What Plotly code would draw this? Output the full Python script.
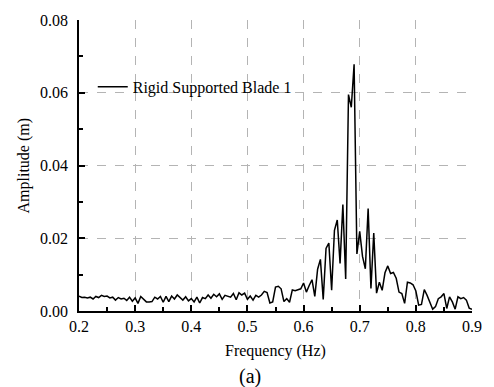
import plotly.graph_objects as go
import numpy as np

# Frequency grid (Hz) and amplitude (m)
f_start, f_stop, f_step = 0.2, 0.9, 0.005
amplitude = [
    0.0041, 0.0037, 0.0038, 0.0036, 0.0038, 0.0033, 0.0040, 0.0037, 0.0043, 0.0040,  # 0.200-0.245
    0.0041, 0.0036, 0.0038, 0.0030, 0.0037, 0.0033, 0.0035, 0.0029, 0.0038, 0.0027,  # 0.250-0.295
    0.0036, 0.0021, 0.0040, 0.0033, 0.0025, 0.0025, 0.0026, 0.0038, 0.0033, 0.0040,  # 0.300-0.345
    0.0024, 0.0040, 0.0026, 0.0041, 0.0033, 0.0044, 0.0037, 0.0030, 0.0039, 0.0028,  # 0.350-0.395
    0.0034, 0.0025, 0.0038, 0.0022, 0.0037, 0.0034, 0.0044, 0.0035, 0.0046, 0.0039,  # 0.400-0.445
    0.0047, 0.0032, 0.0043, 0.0041, 0.0038, 0.0048, 0.0031, 0.0050, 0.0044, 0.0049,  # 0.450-0.495
    0.0032, 0.0041, 0.0030, 0.0043, 0.0038, 0.0044, 0.0054, 0.0051, 0.0022, 0.0025,  # 0.500-0.545
    0.0066, 0.0068, 0.0061, 0.0026, 0.0034, 0.0024, 0.0058, 0.0056, 0.0059, 0.0061,  # 0.550-0.595
    0.0077, 0.0052, 0.0070, 0.0086, 0.0040, 0.0115, 0.0142, 0.0032, 0.0172, 0.0187,  # 0.600-0.645
    0.0057, 0.0222, 0.0250, 0.0131, 0.0293, 0.0088, 0.0595, 0.0560, 0.0678, 0.0157,  # 0.650-0.695
    0.0219, 0.0150, 0.0116, 0.0282, 0.0062, 0.0214, 0.0049, 0.0079, 0.0057, 0.0105,  # 0.700-0.745
    0.0124, 0.0103, 0.0106, 0.0090, 0.0052, 0.0048, 0.0021, 0.0079, 0.0077, 0.0072,  # 0.750-0.795
    0.0055, 0.0016, 0.0018, 0.0059, 0.0043, 0.0021, 0.0005, 0.0012, 0.0034, 0.0039,  # 0.800-0.845
    0.0048, 0.0007, 0.0039, 0.0025, 0.0005, 0.0039, 0.0034, 0.0037, 0.0030, 0.0008,  # 0.850-0.895
    0.0005,                                                                            # 0.900
]
frequency = np.round(f_start + f_step * np.arange(len(amplitude)), 4)

x_range = [0.2, 0.9]
y_range = [0.0, 0.08]
x_grid_vals = [0.3, 0.4, 0.5, 0.6, 0.7, 0.8]
y_grid_vals = [0.02, 0.04, 0.06]

series_name = "Rigid Supported Blade 1"
x_title = "Frequency (Hz)"
y_title = "Amplitude (m)"
panel_label = "(a)"

FONT = "Liberation Serif"

fig = go.Figure()
# empty trace that carries the grid-only primary axes
fig.add_trace(go.Scatter(x=[None], y=[None], xaxis="x", yaxis="y",
                         showlegend=False, hoverinfo="skip"))
# data on the overlaid axes (drawn above the grid)
fig.add_trace(go.Scatter(x=frequency, y=amplitude, mode="lines", name=series_name,
                         xaxis="x2", yaxis="y2",
                         line=dict(color="black", width=1.5)))

gridonly = dict(showgrid=True, gridcolor="#b4b4b4", gridwidth=1, griddash="dash",
                showticklabels=False, ticks="", showline=False, zeroline=False)
tick_common = dict(showline=True, linecolor="black", linewidth=1.5,
                   ticks="inside", ticklen=6, tickcolor="black", tickwidth=1.5,
                   zeroline=False, showgrid=False,
                   tickfont=dict(family=FONT, size=16, color="black"))

fig.update_layout(
    width=494, height=387,
    margin=dict(l=79, r=16, t=15, b=76),
    paper_bgcolor="white", plot_bgcolor="white",
    font=dict(family=FONT, size=16, color="black"),
    showlegend=True,
    legend=dict(x=0.035, y=0.77, xanchor="left", yanchor="middle",
                bgcolor="rgba(0,0,0,0)", font=dict(family=FONT, size=16),
                itemwidth=30, tracegroupgap=0),
    xaxis=dict(range=x_range, tickvals=x_grid_vals, **gridonly),
    yaxis=dict(range=y_range, tickvals=y_grid_vals, **gridonly),
    xaxis2=dict(range=x_range, overlaying="x", anchor="y2", side="bottom",
                dtick=0.1, tick0=0.2, tickformat=".1f",
                minor=dict(dtick=0.05, ticks="inside", ticklen=4, tickcolor="black", tickwidth=1.5, showgrid=False),
                **tick_common),
    yaxis2=dict(range=y_range, overlaying="y", anchor="x2", side="left",
                dtick=0.02, tickformat=".2f", ticklabelstandoff=6,
                minor=dict(dtick=0.01, ticks="inside", ticklen=4, tickcolor="black", tickwidth=1.5, showgrid=False),
                **tick_common),
    annotations=[
        dict(text=x_title, xref="paper", yref="paper", x=0.5, y=0, yshift=-40,
             showarrow=False, font=dict(family=FONT, size=16), yanchor="middle"),
        dict(text=y_title, xref="paper", yref="paper", x=0, xshift=-56, y=0.5,
             showarrow=False, textangle=-90, font=dict(family=FONT, size=16), xanchor="center"),
        dict(text=panel_label, xref="paper", yref="paper", x=0.435, y=0, yshift=-65,
             showarrow=False, font=dict(family=FONT, size=20), yanchor="middle"),
    ],
)
fig.write_html("out.html")
